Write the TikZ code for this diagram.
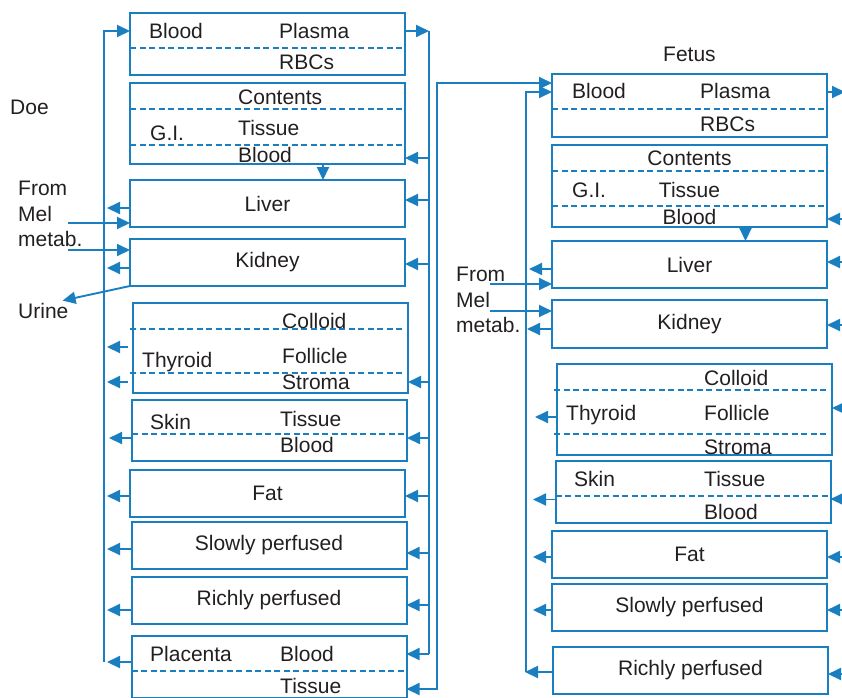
\documentclass[tikz,border=0pt]{standalone}
\usepackage{fontspec}
\setmainfont{Liberation Sans}
\usetikzlibrary{arrows.meta,positioning}
\definecolor{flow}{HTML}{1A7FC1}
\definecolor{ink}{HTML}{231F20}

\begin{document}
\begin{tikzpicture}[
    x=1pt, y=-1pt,
    font=\fontsize{21}{25.5}\selectfont,
    comp/.style={draw=flow, line width=2pt, minimum width=275pt, inner sep=0pt, outer sep=0pt, text=ink},
    lbl/.style={text=ink, inner sep=0pt, anchor=base west},
    clbl/.style={text=ink, inner sep=0pt, anchor=base},
    sep/.style={draw=flow, line width=1.3pt, dash pattern=on 6pt off 3.5pt},
    fline/.style={draw=flow, line width=1.9pt},
    arr/.style={fline, -{Triangle[length=13pt,width=12pt]}},
    rarr/.style={fline, {Triangle[length=13pt,width=12pt]}-},
    darr/.style={fline, {Triangle[length=13pt,width=12pt]}-{Triangle[length=13pt,width=12pt]}}
]
\useasboundingbox (0,0) rectangle (842,697);

% doe compartments
\node[comp, minimum height=62pt] (dblood) at (267.5,44) {};
\node[comp, minimum height=81pt, below=8pt of dblood] (dgi) {};
\node[comp, minimum height=47pt, below=16pt of dgi] (dliver) {Liver};
\node[comp, minimum height=47pt, below=12pt of dliver] (dkidney) {Kidney};
\node[comp, minimum height=90pt, below=17pt of dkidney, xshift=3pt] (dthyroid) {};
\node[comp, minimum height=61pt, below=7pt of dthyroid, xshift=-1pt] (dskin) {};
\node[comp, minimum height=47pt, below=9pt of dskin, xshift=-2pt] (dfat) {Fat};
\node[comp, minimum height=47pt, below=5pt of dfat, xshift=1.5pt] (dslow) {Slowly perfused};
\node[comp, minimum height=47pt, below=8pt of dslow] (drich) {Richly perfused};
\node[comp, minimum height=62pt, below=12pt of drich] (dplac) {};

% fetus compartments
\node[comp, minimum height=63pt] (fblood) at (689.5,105.5) {};
\node[comp, minimum height=82pt, below=8pt of fblood] (fgi) {};
\node[comp, minimum height=47pt, below=14pt of fgi] (fliver) {Liver};
\node[comp, minimum height=48pt, below=12pt of fliver] (fkidney) {Kidney};
\node[comp, minimum height=91pt, below=16pt of fkidney, xshift=5pt] (fthyroid) {};
\node[comp, minimum height=62pt, below=6pt of fthyroid, xshift=-1.5pt] (fskin) {};
\node[comp, minimum height=47pt, below=8pt of fskin, xshift=-3.5pt] (ffat) {Fat};
\node[comp, minimum height=47pt, below=6pt of ffat] (fslow) {Slowly perfused};
\node[comp, minimum height=47pt, below=16pt of fslow, xshift=1pt] (frich) {Richly perfused};

% sub-compartment splits
\draw[sep] ([yshift=-4pt]dblood.west) -- ([yshift=-4pt]dblood.east);
\draw[sep] ([yshift=14.5pt]dgi.west) -- ([yshift=14.5pt]dgi.east);
\draw[sep] ([yshift=-21.5pt]dgi.west) -- ([yshift=-21.5pt]dgi.east);
\draw[sep] ([xshift=-3pt,yshift=19pt]dthyroid.west) -- ([xshift=-4pt,yshift=19pt]dthyroid.east);
\draw[sep] ([xshift=-3pt,yshift=-25pt]dthyroid.west) -- ([xshift=-4pt,yshift=-25pt]dthyroid.east);
\draw[sep] ([yshift=-3.5pt]dskin.west) -- ([yshift=-3.5pt]dskin.east);
\draw[sep] ([yshift=-4pt]dplac.west) -- ([yshift=-4pt]dplac.east);
\draw[sep] ([yshift=-3.5pt]fblood.west) -- ([yshift=-3.5pt]fblood.east);
\draw[sep] ([yshift=15pt]fgi.west) -- ([yshift=15pt]fgi.east);
\draw[sep] ([yshift=-20pt]fgi.west) -- ([yshift=-20pt]fgi.east);
\draw[sep] ([xshift=-3pt,yshift=19.5pt]fthyroid.west) -- ([xshift=-4pt,yshift=19.5pt]fthyroid.east);
\draw[sep] ([xshift=-3pt,yshift=-24.5pt]fthyroid.west) -- ([xshift=-4pt,yshift=-24.5pt]fthyroid.east);
\draw[sep] ([yshift=-4pt]fskin.west) -- ([yshift=-4pt]fskin.east);

% doe labels
\node[lbl] (ddoe) at (10,114) {Doe};
\node[lbl] (dbloodt) at (149,38) {Blood};
\node[lbl] (dplasma) at (279,38) {Plasma};
\node[lbl] (drbc) at (279,69) {RBCs};
\node[lbl] (dcontents) at (238,104) {Contents};
\node[lbl] (dgit) at (150,140) {G.I.};
\node[lbl] (dgitissue) at (238,135) {Tissue};
\node[lbl] (dgiblood) at (238,162) {Blood};
\node[lbl, anchor=north west, align=left] (dmel) at (18,181) {From\\Mel\\metab.};
\node[lbl] (durine) at (18,318) {Urine};
\node[lbl] (dthyt) at (142,367) {Thyroid};
\node[lbl] (dcolloid) at (282,328) {Colloid};
\node[lbl] (dfollicle) at (282,363) {Follicle};
\node[lbl] (dstroma) at (282,389) {Stroma};
\node[lbl] (dskint) at (150,429) {Skin};
\node[lbl] (dskintissue) at (280,426) {Tissue};
\node[lbl] (dskinblood) at (280,452) {Blood};
\node[lbl] (dplact) at (150,661) {Placenta};
\node[lbl] (dplacblood) at (280,661) {Blood};
\node[lbl] (dplactissue) at (280,693) {Tissue};

% fetus labels
\node[lbl] (ffetus) at (663,61) {Fetus};
\node[lbl] (fbloodt) at (572,98) {Blood};
\node[lbl] (fplasma) at (700,98) {Plasma};
\node[lbl] (frbc) at (700,131) {RBCs};
\node[clbl] (fcontents) at (689.5,165) {Contents};
\node[lbl] (fgit) at (572,197) {G.I.};
\node[clbl] (fgitissue) at (689.5,197) {Tissue};
\node[clbl] (fgiblood) at (689.5,224) {Blood};
\node[lbl, anchor=north west, align=left] (fmel) at (456,267) {From\\Mel\\metab.};
\node[lbl] (fthyt) at (566,420) {Thyroid};
\node[lbl] (fcolloid) at (704,385) {Colloid};
\node[lbl] (ffollicle) at (704,420) {Follicle};
\node[lbl] (fstroma) at (704,454) {Stroma};
\node[lbl] (fskint) at (574,486) {Skin};
\node[lbl] (fskintissue) at (704,486) {Tissue};
\node[lbl] (fskinblood) at (704,519) {Blood};

% doe venous return
\coordinate (dLt) at (104,31);
\coordinate (dLb) at (104,662);
\draw[arr] (dLb) -- (dLt) -- (dLt -| dblood.west);
\draw[arr] ([yshift=-4.5pt]dliver.west) -- +(-23,0);
\draw[arr] ([yshift=-5.5pt]dkidney.west) -- +(-23,0);
\draw[arr] ([xshift=-5pt,yshift=1pt]dthyroid.west) -- +(-21,0);
\draw[arr] ([xshift=-5pt,yshift=-34pt]dthyroid.west) -- +(-21,0);
\draw[arr] ([yshift=-7.5pt]dskin.west) -- +(-23,0);
\draw[arr] ([yshift=-2.5pt]dfat.west) -- +(-23,0);
\draw[arr] ([yshift=-3.5pt]dslow.west) -- +(-24.5,0);
\draw[arr] ([yshift=-9.5pt]drich.west) -- +(-24.5,0);
\draw[arr] ([yshift=5pt]dplac.west) -- +(-24.5,0);

% doe arterial supply
\coordinate (dRt) at (429,31);
\coordinate (dRb) at (429,654);
\draw[arr] (dRt -| dblood.east) -- (dRt);
\draw[fline] (dRt) -- (dRb);
\draw[rarr] ([yshift=-34.5pt]dgi.east) -- +(24,0);
\draw[rarr] ([yshift=3.5pt]dliver.east) -- +(24,0);
\draw[rarr] ([yshift=-1.5pt]dkidney.east) -- +(24,0);
\draw[rarr] ([yshift=-34pt]dthyroid.east) -- +(21,0);
\draw[rarr] ([yshift=-7.5pt]dskin.east) -- +(22,0);
\draw[rarr] ([yshift=-2.5pt]dfat.east) -- +(24,0);
\draw[rarr] ([yshift=-7.5pt]dslow.east) -- +(22.5,0);
\draw[rarr] ([yshift=-4.5pt]drich.east) -- +(22.5,0);
\draw[rarr] ([yshift=13pt]dplac.east) -- +(22.5,0);

% placenta <-> fetus
\coordinate (oRt) at (437,83);
\coordinate (oRb) at (437,689);
\draw[darr] (oRb -| dplac.east) -- (oRb) -- (oRt) -- (oRt -| fblood.west);

% doe gut, metabolite, urine
\draw[arr] ([xshift=55.5pt]dgi.south) -- ([xshift=55.5pt]dliver.north);
\coordinate (dmelA) at (68,223);
\coordinate (dmelB) at (68,250);
\draw[arr] (dmelA) -- (dmelA -| dliver.west);
\draw[arr] (dmelB) -- (dmelB -| dkidney.west);
\draw[arr] (dkidney.south west) -- ([xshift=-6pt,yshift=2pt]durine.north east);

% fetus venous return
\coordinate (fLt) at (526,92);
\coordinate (fLb) at (526,672);
\draw[arr] (fLb) -- (fLt) -- (fLt -| fblood.west);
\draw[arr] ([yshift=-4.5pt]fliver.west) -- +(-23,0);
\draw[arr] ([yshift=-5pt]fkidney.west) -- +(-25,0);
\draw[arr] ([yshift=-7.5pt]fthyroid.west) -- +(-22,0);
\draw[arr] ([yshift=-7.5pt]fskin.west) -- +(-22.5,0);
\draw[arr] ([yshift=-2.5pt]ffat.west) -- +(-19,0);
\draw[arr] ([yshift=-2.5pt]fslow.west) -- +(-19,0);
\draw[arr] ([yshift=-1.5pt]frich.west) -- +(-28,0);

% fetus gut, metabolite
\draw[arr] ([xshift=56pt]fgi.south) -- ([xshift=56pt]fliver.north);
\coordinate (fmelA) at (490,284);
\coordinate (fmelB) at (490,311);
\draw[arr] (fmelA) -- (fmelA -| fliver.west);
\draw[arr] (fmelB) -- (fmelB -| fkidney.west);

% fetus arterial supply
\draw[arr] ([yshift=13.5pt]fblood.east) -- +(18,0);
\draw[rarr] ([yshift=-33pt]fgi.east) -- +(15,0);
\draw[rarr] ([yshift=2.5pt]fliver.east) -- +(15,0);
\draw[rarr] ([yshift=-1pt]fkidney.east) -- +(15,0);
\draw[rarr] ([yshift=1.5pt]fthyroid.east) -- +(10,0);
\draw[rarr] ([yshift=-7pt]fskin.east) -- +(11.5,0);
\draw[rarr] ([yshift=-2.5pt]ffat.east) -- +(15,0);
\draw[rarr] ([yshift=-2.5pt]fslow.east) -- +(15,0);
\draw[rarr] ([yshift=-3.5pt]frich.east) -- +(14,0);
\end{tikzpicture}
\end{document}
